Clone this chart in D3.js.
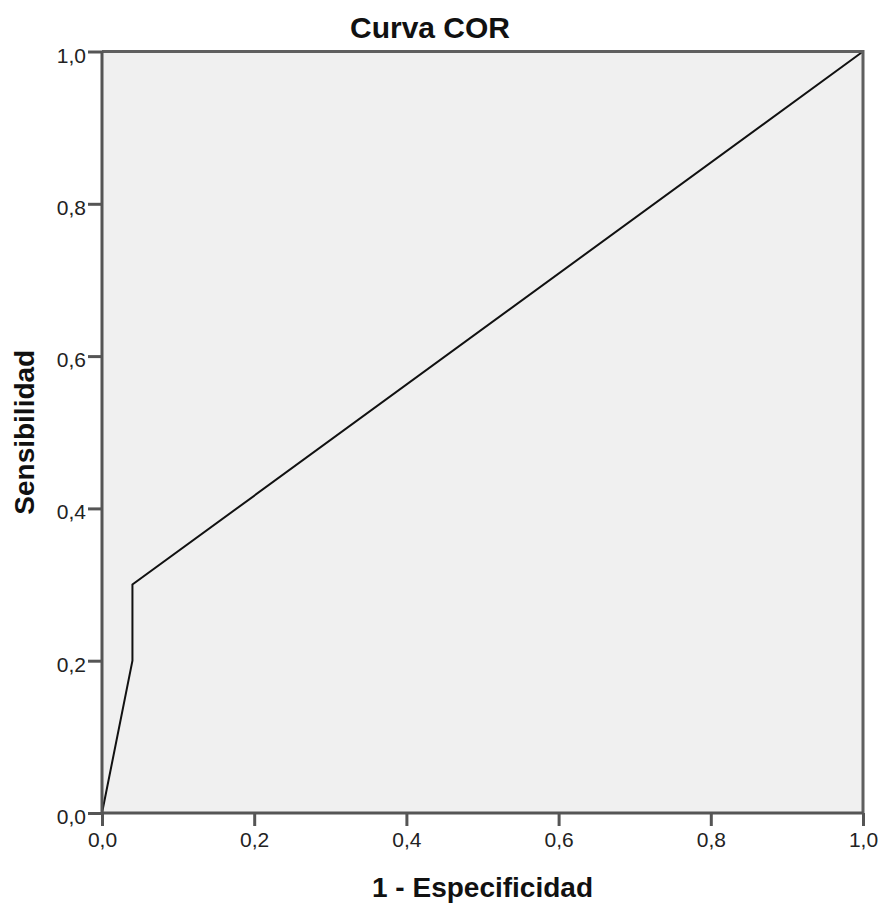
<!DOCTYPE html>
<html>
<head>
<meta charset="utf-8">
<script src="https://cdn.jsdelivr.net/npm/d3@7"></script>
<style>
  html, body { margin: 0; padding: 0; background: #ffffff; }
  svg { display: block; }
  text { font-family: "Liberation Sans", Arial, sans-serif; }
</style>
</head>
<body>
<svg id="chart" width="881" height="903"></svg>
<script>
// ROC curve points (1 - specificity, sensitivity)
const fpr = [0.0, 0.04, 0.04, 1.0];
const tpr = [0.0, 0.2, 0.3, 1.0];
const tickValues = [0.0, 0.2, 0.4, 0.6, 0.8, 1.0];
const chartTitle = "Curva COR";
const xTitle = "1 - Especificidad";
const yTitle = "Sensibilidad";

const W = 881, H = 903;
const margin = { left: 102, right: 18, top: 51.5, bottom: 90 };
const svg = d3.select("#chart");

const x = d3.scaleLinear().domain([0, 1]).range([margin.left, W - margin.right]);
const y = d3.scaleLinear().domain([0, 1]).range([H - margin.bottom, margin.top]);
const fmt = d => d3.format(".1f")(d).replace(".", ",");

// plot background
svg.append("rect")
  .attr("x", x(0)).attr("y", y(1))
  .attr("width", x(1) - x(0)).attr("height", y(0) - y(1))
  .attr("fill", "#f0f0f0");

// ROC line
const pts = fpr.map((v, i) => [v, tpr[i]]);
svg.append("path")
  .datum(pts)
  .attr("fill", "none")
  .attr("stroke", "#111")
  .attr("stroke-width", 2)
  .attr("stroke-linejoin", "miter")
  .attr("d", d3.line().x(d => x(d[0])).y(d => y(d[1])));

// frame (top and right)
svg.append("path")
  .attr("d", `M${x(0)},${y(1)}H${x(1)}V${y(0)}`)
  .attr("fill", "none")
  .attr("stroke", "#5f5f5f")
  .attr("stroke-width", 3);

const axisColor = "#555";
// x axis
const gx = svg.append("g")
  .attr("transform", `translate(0,${y(0)})`)
  .call(d3.axisBottom(x).tickValues(tickValues).tickFormat(fmt).tickSize(13).tickPadding(6));
// y axis
const gy = svg.append("g")
  .attr("transform", `translate(${x(0)},0)`)
  .call(d3.axisLeft(y).tickValues(tickValues).tickFormat(fmt).tickSize(14).tickPadding(2));

[gx, gy].forEach(g => {
  g.select(".domain").attr("stroke", axisColor).attr("stroke-width", 3);
  g.selectAll(".tick line").attr("stroke", axisColor).attr("stroke-width", 3);
  g.selectAll(".tick text")
    .attr("fill", "#222")
    .style("font-size", "21px")
    .style("font-family", "'Liberation Sans', Arial, sans-serif");
});
gy.selectAll(".tick text").attr("dy", "0.5em");
gx.select(".domain").attr("d", `M${x(0)},0H${x(1)}`);
gy.select(".domain").attr("d", `M0,${y(0)}V${y(1)}`);

// title
svg.append("text")
  .attr("x", 430).attr("y", 38)
  .attr("text-anchor", "middle")
  .attr("font-size", 30).attr("font-weight", "bold")
  .attr("fill", "#111")
  .text(chartTitle);

// x title
svg.append("text")
  .attr("x", (x(0) + x(1)) / 2).attr("y", 897)
  .attr("text-anchor", "middle")
  .attr("font-size", 28).attr("font-weight", "bold")
  .attr("fill", "#111")
  .text(xTitle);

// y title
svg.append("text")
  .attr("transform", `translate(34,${(y(0) + y(1)) / 2}) rotate(-90)`)
  .attr("text-anchor", "middle")
  .attr("font-size", 28).attr("font-weight", "bold")
  .attr("fill", "#111")
  .text(yTitle);
</script>
</body>
</html>
